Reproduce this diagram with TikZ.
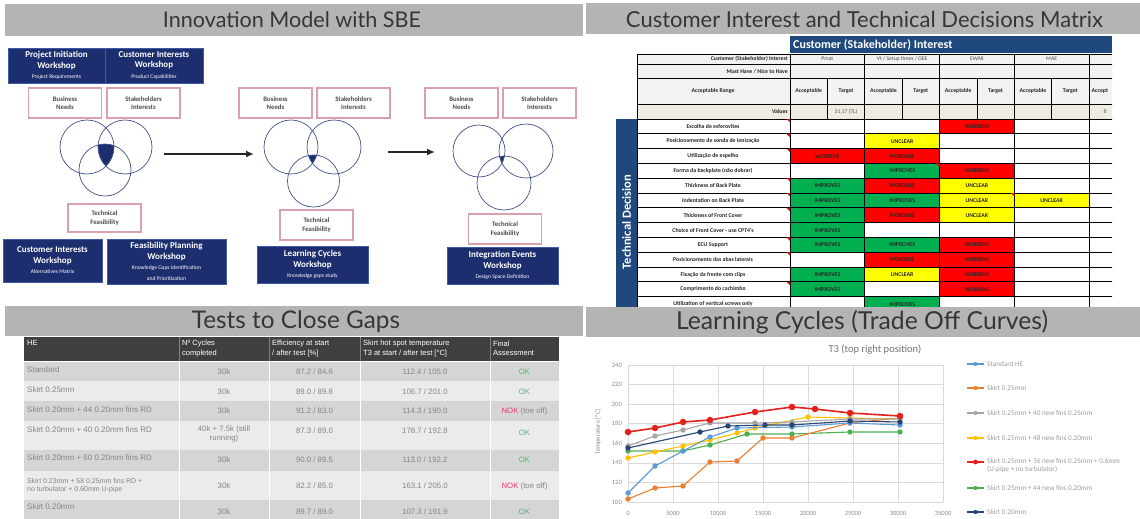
\documentclass[tikz,border=0pt]{standalone}
\usepackage{fontspec}
\setmainfont{Carlito}
\newfontfamily\titlefont{Lato}
\newfontfamily\arialf{Liberation Sans}
\usetikzlibrary{arrows.meta}
\definecolor{bargray}{HTML}{B4B4B4}
\definecolor{titletext}{HTML}{363636}
\definecolor{navy}{HTML}{1C2E6E}
\definecolor{navyedge}{HTML}{3C5AA8}
\definecolor{pinkb}{HTML}{D9A0AE}
\definecolor{circ}{HTML}{44528A}
\definecolor{xlblue}{HTML}{1F497D}
\definecolor{hdrgray}{HTML}{F2F2F2}
\definecolor{beige}{HTML}{EEECE1}
\definecolor{fillr}{HTML}{FF0000}
\definecolor{fillg}{HTML}{00B050}
\definecolor{filly}{HTML}{FFFF00}
\definecolor{filln}{HTML}{FFFFFF}
\definecolor{tblhead}{HTML}{3F3F3F}
\definecolor{rowdark}{HTML}{D5D5D5}
\definecolor{rowlight}{HTML}{EBEBEB}
\definecolor{tbltext}{HTML}{858585}
\definecolor{okgreen}{HTML}{4DBF73}
\definecolor{nokred}{HTML}{E63C6E}
\definecolor{gridc}{HTML}{DADADA}
\definecolor{axtext}{HTML}{8C8C8C}
\definecolor{sBlue}{HTML}{5B9BD5}
\definecolor{sOrange}{HTML}{ED7D31}
\definecolor{sGray}{HTML}{A5A5A5}
\definecolor{sYellow}{HTML}{FFC000}
\definecolor{sRed}{HTML}{E3201B}
\definecolor{sGreen}{HTML}{4CAF50}
\definecolor{sNavy}{HTML}{264478}
\newcommand\subl[1]{{\mdseries\fontsize{5.6}{6.6}\selectfont #1}}
\newcommand\txtr{WORSENS}
\newcommand\txtg{IMPROVES}
\newcommand\txty{UNCLEAR}
\newcommand\txtn{}
\begin{document}
\begin{tikzpicture}[x=1pt,y=-1pt,
  titletxt/.style={text=titletext,font=\titlefont\fontsize{20}{24}\selectfont,inner sep=0},
  navybox/.style={fill=navy,draw=navyedge,line width=0.5pt,text=white,align=center,
     font=\bfseries\fontsize{9}{10.5}\selectfont,inner sep=0},
  pinkbox/.style={draw=pinkb,line width=1.2pt,fill=white,text=black!70,align=center,
     font=\bfseries\fontsize{6.8}{8.4}\selectfont,inner sep=0,minimum width=73pt,minimum height=30pt},
  venn/.style={draw=circ,line width=0.7pt},
  bigarrow/.style={-{Latex[length=8pt,width=7pt]},line width=2.2pt,black!85},
  mgrid/.style={draw=black,line width=0.7pt},
  mlab/.style={font=\bfseries\fontsize{5.8}{6.6}\selectfont,text=black!85,inner sep=0},
  mhead/.style={font=\fontsize{5.6}{6.6}\selectfont,text=black!70,inner sep=0},
  mcell/.style={font=\bfseries\fontsize{5.8}{6.6}\selectfont,text=black!85,inner sep=0},
  ttxt/.style={font=\arialf\fontsize{7.8}{9}\selectfont,text=tbltext,inner sep=0,align=center},
  tfirst/.style={font=\arialf\fontsize{8}{8.6}\selectfont,text=tbltext,inner sep=0,align=left,anchor=west},
  thd/.style={font=\arialf\fontsize{7.5}{9.5}\selectfont,text=white,inner sep=0,align=left,anchor=west},
  axlab/.style={font=\fontsize{6.5}{7.5}\selectfont,text=axtext,inner sep=0},
  legtxt/.style={font=\fontsize{7.2}{7.8}\selectfont,text=axtext!85,inner sep=0,anchor=west,align=left},
  ser/.style={line width=1.1pt},
]
\useasboundingbox (0,0) rectangle (1140,519);
\fill[white] (0,0) rectangle (1140,519);

% ================= title bars =================
\fill[bargray] (5,4) rectangle (583,36);
\node[titletxt] (tA) at (292,20) {\resizebox{258pt}{!}{Innovation Model with SBE}};
\fill[bargray] (586,3) rectangle (1140,34);
\node[titletxt] (tB) at (864.5,19) {\resizebox{477pt}{!}{Customer Interest and Technical Decisions Matrix}};

% ================= panel 1 =================
\node[navybox,minimum width=97pt,minimum height=35pt] (pib) at (56.5,65.5) {Project Initiation\\Workshop\\\subl{Project Requirements}};
\node[navybox,minimum width=98pt,minimum height=35pt] (cib) at (154,65.5) {Customer Interests\\Workshop\\\subl{Product Capabilities}};

\node[pinkbox] (bn1) at (65,103) {Business\\Needs};
\node[pinkbox] (sh1) at (143.5,103) {Stakeholders\\Interests};
\node[pinkbox] (bn2) at (275.5,103) {Business\\Needs};
\node[pinkbox] (sh2) at (353.5,103) {Stakeholders\\Interests};
\node[pinkbox] (bn3) at (461.5,103) {Business\\Needs};
\node[pinkbox] (sh3) at (539.5,103) {Stakeholders\\Interests};

% Venn 1
\begin{scope}
  \clip (87,147) circle (27pt); \clip (125,147) circle (27pt);
  \fill[navy] (105,170) circle (26pt);
\end{scope}
\draw[venn] (87,147) circle (27pt);
\draw[venn] (125,147) circle (27pt);
\draw[venn] (105,170) circle (26pt);
% Venn 2
\begin{scope}
  \clip (291,147) circle (27pt); \clip (334,147) circle (27pt);
  \fill[navy] (313.5,181) circle (26pt);
\end{scope}
\draw[venn] (291,147) circle (27pt);
\draw[venn] (334,147) circle (27pt);
\draw[venn] (313.5,181) circle (26pt);
% Venn 3
\begin{scope}
  \clip (479,151) circle (26pt); \clip (526,151) circle (27pt);
  \fill[navy] (504,183) circle (27pt);
\end{scope}
\draw[venn] (479,151) circle (26pt);
\draw[venn] (526,151) circle (27pt);
\draw[venn] (504,183) circle (27pt);

\coordinate (a1s) at (164,154);
\coordinate (a1e) at (254,154);
\coordinate (a2s) at (388,152);
\coordinate (a2e) at (435,152);
\draw[bigarrow] (a1s) -- (a1e);
\draw[bigarrow] (a2s) -- (a2e);

\node[pinkbox,minimum height=28pt] (tf1) at (104.5,218) {Technical\\Feasibility};
\node[pinkbox] (tf2) at (316.5,225) {Technical\\Feasibility};
\node[pinkbox] (tf3) at (505,229) {Technical\\Feasibility};

\node[navybox,minimum width=99pt,minimum height=43pt] (ci2) at (52.5,260.5) {Customer Interests\\Workshop\\\subl{Alternatives Matrix}};
\node[navybox,minimum width=119pt,minimum height=45pt] (fpw) at (166.5,261.5) {Feasibility Planning\\Workshop\\\subl{Knowledge Gaps Identification}\\\subl{and Prioritization}};
\node[navybox,minimum width=111pt,minimum height=37pt] (lcw) at (312.5,264.5) {Learning Cycles\\Workshop\\\subl{Knowledge gaps study}};
\node[navybox,minimum width=111pt,minimum height=37pt] (iew) at (502.5,265.5) {Integration Events\\Workshop\\\subl{Design Space Definition}};

% ================= panel 2 : matrix =================
\begin{scope}
\clip (600,36) rectangle (1112,306.5);
\fill[xlblue] (790,36.5) rectangle (1112,53.5);
\node[anchor=west,text=white,font=\bfseries\fontsize{12}{14}\selectfont,inner sep=0] (mh) at (793,45) {Customer (Stakeholder) Interest};
\fill[hdrgray] (637,54) rectangle (1170,104);
\fill[beige] (637,104) rectangle (1170,119);
\fill[xlblue] (616,119) rectangle (637,330);
\node[rotate=90,text=white,font=\bfseries\fontsize{12.5}{14}\selectfont,inner sep=0] (td) at (626.5,222) {Technical Decision};

\foreach \lab/\a/\b/\c/\d [count=\i from 0] in {
  Escolha de esferovites/n/n/r/n,
  Posicionamento de sonda de ionização/n/y/n/n,
  Utilização de espelho/r/r/n/n,
  Forma da backplate (não dobrar)/n/g/r/n,
  Thickness of Back Plate/g/r/y/n,
  Indentation on Back Plate/g/g/y/y,
  Thickness of Front Cover/g/r/y/n,
  Choice of Front Cover - use CPT4's/g/n/n/n,
  ECU Support/g/g/r/n,
  Posicionamento das abas laterais/n/r/r/n,
  Fixação da frente com clips/g/y/r/n,
  Comprimento do cachimbo/g/n/r/n,
  Utilization of vertical screws only/n/g/n/n}{
  \pgfmathsetmacro\yt{119+14.8*\i}
  \pgfmathsetmacro\ym{\yt+7.6}
  \node[mlab] (dl\i) at (713,\ym) {\lab};
  \foreach \v [count=\k from 0] in {\a,\b,\c,\d}{
    \pgfmathsetmacro\xl{790+74.75*\k}
    \fill[fill\v] (\xl,\yt) rectangle (\xl+74.75,\yt+14.8);
    \node[mcell] (dc\i-\k) at (\xl+37.4,\ym) {\csname txt\v\endcsname};
  }
}
% grid
\foreach \y in {54,64,78,104} \draw[mgrid] (637,\y) -- (1170,\y);
\foreach \i in {0,...,13} \draw[mgrid] (637,119+14.8*\i) -- (1170,119+14.8*\i);
\foreach \x in {637,790,864.75,939.5,1014.25,1089} \draw[mgrid] (\x,54) -- (\x,330);
\foreach \x in {827.4,902.1,976.9,1051.6,1126.4} \draw[mgrid] (\x,78) -- (\x,119);
% header texts
\node[mlab,anchor=east] (r1l) at (788,59.2) {Customer (Stakeholder) Interest};
\node[mhead] (r1a) at (827.4,59.2) {Pmat};
\node[mhead] (r1b) at (902.1,59.2) {Vt / Setup times / OEE};
\node[mhead] (r1c) at (976.9,59.2) {EWAK};
\node[mhead] (r1d) at (1051.6,59.2) {MAE};
\node[mlab,anchor=east] (r2l) at (788,71.2) {Must Have / Nice to Have};
\node[mlab] (r3l) at (713,91) {Acceptable Range};
\foreach \k in {0,...,3}{
  \node[mlab] (acc\k) at (790+74.75*\k+18.7,91) {Acceptable};
  \node[mlab] (tar\k) at (790+74.75*\k+56,91) {Target};
}
\node[mlab,anchor=west] (acc4) at (1091.5,91) {Accept};
\node[mlab,anchor=east] (r4l) at (788,111.7) {Values};
\node[mhead] (v1) at (846,111.7) {31,17 (7L)};
\node[mhead] (v2) at (1105,111.7) {8};
% comment markers
\foreach \i in {0,1,2,4,5,6,8,9,11}
  \fill[red] (790,119+14.8*\i) -- (786.5,119+14.8*\i) -- (790,122.5+14.8*\i) -- cycle;
\fill[red] (939.5,163.4) -- (936,163.4) -- (939.5,166.9) -- cycle;
\fill[red] (1014.25,193) -- (1010.75,193) -- (1014.25,196.5) -- cycle;
\end{scope}

% ================= panel 3 : tests table =================
\fill[bargray] (5,306) rectangle (583,336);
\node[titletxt] (tC) at (296,321.5) {\resizebox{208pt}{!}{Tests to Close Gaps}};
\fill[tblhead] (24,336.5) rectangle (559,361);
\foreach \x in {179,269,360,490} \draw[gray,line width=0.5pt] (\x,336.5) -- (\x,361);
\fill[rowdark] (24,361) rectangle (559,381);
\fill[rowlight] (24,381) rectangle (559,401);
\fill[rowdark] (24,401) rectangle (559,421);
\fill[rowlight] (24,421) rectangle (559,449.5);
\fill[rowdark] (24,449.5) rectangle (559,471);
\fill[rowlight] (24,471) rectangle (559,500);
\fill[rowdark] (24,500) rectangle (559,525);
\foreach \x in {179,269,360,490} \draw[white,line width=0.7pt] (\x,361) -- (\x,525);
\draw[white,line width=1pt] (24,361) -- (559,361);
\node[thd] (hh1) at (27,343) {HE};
\node[thd] (hh2) at (182,348.5) {Nº Cycles\\completed};
\node[thd] (hh3) at (272,348.5) {Efficiency at start\\/ after test [\%]};
\node[thd] (hh4) at (363,348.5) {Skirt hot spot temperature\\T3 at start / after test [°C]};
\node[thd] (hh5) at (493,348.5) {Final\\Assessment};
% rows
\node[tfirst] (a1) at (27,370) {Standard};
\node[ttxt] (b1) at (224,372) {30k};
\node[ttxt] (c1) at (314.5,372) {87.2 / 84.6};
\node[ttxt] (d1) at (425,372) {112.4 / 105.0};
\node[ttxt,text=okgreen] (e1) at (524.5,372) {OK};
\node[tfirst] (a2) at (27,390) {Skirt 0.25mm};
\node[ttxt] (b2) at (224,391.5) {30k};
\node[ttxt] (c2) at (314.5,391.5) {89.0 / 89.8};
\node[ttxt] (d2) at (425,391.5) {106.7 / 201.0};
\node[ttxt,text=okgreen] (e2) at (524.5,391.5) {OK};
\node[tfirst] (a3) at (27,409.5) {Skirt 0.20mm + 44 0.20mm fins RD};
\node[ttxt] (b3) at (224,411) {30k};
\node[ttxt] (c3) at (314.5,411) {91.2 / 83.0};
\node[ttxt] (d3) at (425,411) {114.3 / 190.0};
\node[ttxt] (e3) at (524.5,411) {\textcolor{nokred}{NOK} (toe off)};
\node[tfirst] (a4) at (27,429.5) {Skirt 0.20mm + 40 0.20mm fins RD};
\node[ttxt] (b4) at (224,433.5) {40k + 7.5k (still\\running)};
\node[ttxt] (c4) at (314.5,431) {87.3 / 89.0};
\node[ttxt] (d4) at (425,431) {178.7 / 192.8};
\node[ttxt,text=okgreen] (e4) at (524.5,433) {OK};
\node[tfirst] (a5) at (27,458) {Skirt 0.20mm + 60 0.20mm fins RD};
\node[ttxt] (b5) at (224,460) {30k};
\node[ttxt] (c5) at (314.5,460) {90.0 / 89.5};
\node[ttxt] (d5) at (425,460) {113.0 / 192.2};
\node[ttxt,text=okgreen] (e5) at (524.5,460) {OK};
\node[tfirst,font=\arialf\fontsize{7}{8}\selectfont] (a6) at (27,486) {Skirt 0.23mm + 58 0.25mm fins RD +\\no turbulator + 0.60mm U-pipe};
\node[ttxt] (b6) at (224,486) {30k};
\node[ttxt] (c6) at (314.5,486) {82.2 / 85.0};
\node[ttxt] (d6) at (425,486) {163.1 / 205.0};
\node[ttxt] (e6) at (524.5,486) {\textcolor{nokred}{NOK} (toe off)};
\node[tfirst] (a7) at (27,507) {Skirt 0.20mm};
\node[ttxt] (b7) at (224,512) {30k};
\node[ttxt] (c7) at (314.5,512) {89.7 / 89.0};
\node[ttxt] (d7) at (425,512) {107.3 / 191.9};
\node[ttxt,text=okgreen] (e7) at (524.5,512) {OK};

% ================= panel 4 : chart =================
\fill[bargray] (586,307) rectangle (1140,337);
\node[titletxt] (tD) at (862,322) {\resizebox{372pt}{!}{Learning Cycles (Trade Off Curves)}};
\node[font=\fontsize{10.5}{12}\selectfont,text=black!55,inner sep=0] (ctitle) at (875,350) {T3 (top right position)};
\foreach \k in {0,...,7} \draw[gridc,line width=0.5pt] (628+45*\k,365) -- (628+45*\k,502);
\foreach \k in {0,...,7} \draw[gridc,line width=0.5pt] (628,365+19.571*\k) -- (943,365+19.571*\k);
\foreach \k/\lab in {0/0,1/5000,2/10000,3/15000,4/20000,5/25000,6/30000,7/35000}
  \node[axlab] (xl\k) at (628+45*\k,513) {\lab};
\foreach \k/\lab in {0/240,1/220,2/200,3/180,4/160,5/140,6/120,7/100}
  \node[axlab,anchor=east] (yl\k) at (622,365+19.571*\k) {\lab};
\node[axlab,rotate=90] (ytitle) at (598,432) {Temperature [°C]};

\draw[ser,sGreen] plot[mark=*,mark size=2.1pt] coordinates {(628,451) (683,451) (710,445) (747,434) (792,434) (850,432) (900,432)};
\draw[ser,sOrange] plot[mark=*,mark size=2.1pt] coordinates {(628,499) (655,488) (683,486) (710,462) (737,461) (763,438) (792,438) (850,423) (900,418)};
\draw[ser,sYellow] plot[mark=*,mark size=2.1pt] coordinates {(628,458) (655,452) (683,446) (710,440) (737,433) (755,428) (808,417) (850,418) (900,419)};
\draw[ser,sGray] plot[mark=*,mark size=2.1pt] coordinates {(628,446) (655,436) (683,430) (710,423) (755,423) (792,422) (850,419) (900,419)};
\draw[ser,sBlue] plot[mark=*,mark size=2.1pt] coordinates {(628,493) (655,466) (683,451) (710,437) (737,428) (792,427) (850,423) (900,425)};
\draw[ser,sNavy] plot[mark=*,mark size=2.1pt] coordinates {(628,448) (700,432) (728,426) (765,425) (792,425) (850,421) (900,422)};
\draw[sRed,line width=1.6pt] plot[mark=*,mark size=2.4pt] coordinates {(628,432) (655,428) (683,422) (710,420) (755,412) (792,407) (815,409) (850,413) (900,416)};

% legend
\foreach \c/\y/\n/\t in {sBlue/364/1/Standard HE, sOrange/388/2/Skirt 0.25mm, sGray/413/3/Skirt 0.25mm + 40 new fins 0.25mm, sYellow/438/4/Skirt 0.25mm + 48 new fins 0.20mm, sGreen/488/6/Skirt 0.25mm + 44 new fins 0.20mm, sNavy/512/7/Skirt 0.20mm}{
  \draw[\c,line width=1.1pt] (967,\y) -- (984,\y);
  \fill[\c] (975.5,\y) circle (2.1pt);
  \node[legtxt] (lg\n) at (987,\y) {\t};
}
\draw[sRed,line width=1.6pt] (967,462) -- (984,462);
\fill[sRed] (975.5,462) circle (2.4pt);
\node[legtxt,anchor=north west] (lg5) at (987,458.5) {Skirt 0.25mm + 36 new fins 0.25mm + 0.6mm\\(U-pipe + no turbulator)};
\end{tikzpicture}
\end{document}
